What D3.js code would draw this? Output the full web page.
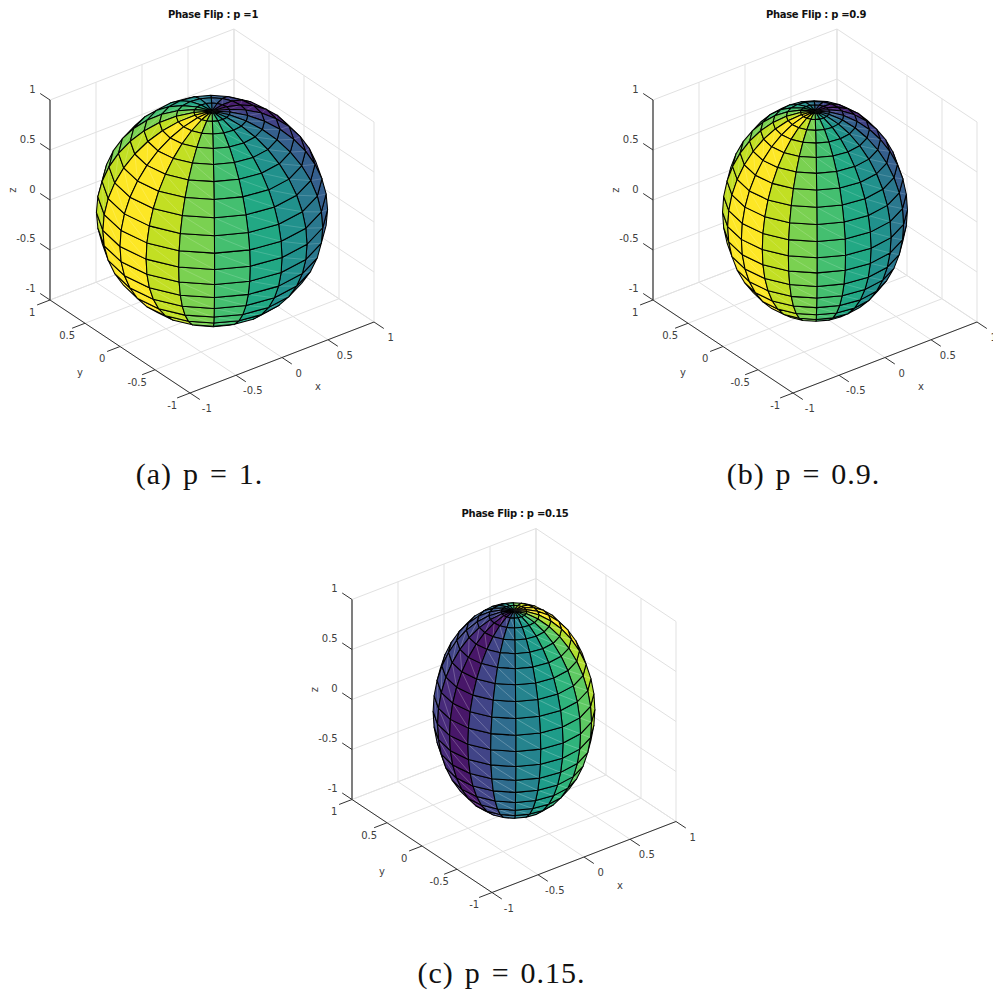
<!DOCTYPE html>
<html>
<head>
<meta charset="utf-8">
<script src="https://cdn.jsdelivr.net/npm/d3@7"></script>
<style>
  html, body { margin: 0; padding: 0; background: #fff; overflow: hidden; }
  svg { display: block; }
</style>
</head>
<body>
<div id="chart"></div>
<script>
// axis ticks shared by x, y, z
var tickValues = [-1, -0.5, 0, 0.5, 1];
var tickLabels = ["-1", "-0.5", "0", "0.5", "1"];

// surface mesh, degrees
var latitudes = [-90, -81, -72, -63, -54, -45, -36, -27, -18, -9, 0, 9, 18, 27, 36, 45, 54, 63, 72, 81, 90];
var longitudes = [-180, -162, -144, -126, -108, -90, -72, -54, -36, -18, 0, 18, 36, 54, 72, 90, 108, 126, 144, 162, 180];

// the three panels
var titles = ["Phase Flip : p =1", "Phase Flip : p =0.9", "Phase Flip : p =0.15"];
var captions = ["(a) p = 1.", "(b) p = 0.9.", "(c) p = 0.15."];
var xyRadius = [1, 0.8, 0.7];
var zRadius = [1, 1, 1];

// colour of each longitude strip, 0..1 on viridis
var stripsA = [1, 0.91, 0.8, 0.7, 0.6, 0.5, 0.4, 0.3, 0.2, 0.1, 0.08, 0.2, 0.3, 0.4, 0.5, 0.6, 0.7, 0.8, 0.91, 1];
var stripsB = [1, 0.91, 0.8, 0.7, 0.6, 0.5, 0.4, 0.3, 0.2, 0.1, 0.08, 0.2, 0.3, 0.4, 0.5, 0.6, 0.7, 0.8, 0.91, 1];
var stripsC = [0.06, 0.2, 0.35, 0.45, 0.55, 0.65, 0.75, 0.88, 1, 1, 1, 0.92, 0.8, 0.66, 0.5, 0.38, 0.28, 0.22, 0.2, 0.12];

var width = 993, height = 992;
var svg = d3.select("#chart").append("svg").attr("width", width).attr("height", height);
var viridis = d3.scaleSequential(d3.interpolateViridis).domain([0, 1]);

// oblique projection, az -37.5 el 30, screen shift per data unit
var xToH = d3.scaleLinear().domain([-1, 1]).range([-92, 92]);
var xToV = d3.scaleLinear().domain([-1, 1]).range([35.5, -35.5]);
var yToH = d3.scaleLinear().domain([-1, 1]).range([70, -70]);
var yToV = d3.scaleLinear().domain([-1, 1]).range([46.5, -46.5]);
var zToV = d3.scaleLinear().domain([-1, 1]).range([100, -100]);
var camera = [-0.527, -0.687, 0.5];
var rad = Math.PI / 180;

function drawPanel(i, strips, cx, cy, seam) {
  var g = svg.append("g").attr("transform", "translate(" + cx + "," + cy + ")");
  function px(p) { return [xToH(p[0]) + yToH(p[1]), xToV(p[0]) + yToV(p[1]) + zToV(p[2])]; }

  function seg(a, b, color, w) {
    var s = px(a), e = px(b);
    g.append("line").attr("x1", s[0]).attr("y1", s[1]).attr("x2", e[0]).attr("y2", e[1])
      .attr("stroke", color).attr("stroke-width", w);
  }

  // back walls and floor
  tickValues.forEach(function(t) {
    seg([t, 1, -1], [t, 1, 1], "#e1e1e1", 1);
    seg([1, t, -1], [1, t, 1], "#e1e1e1", 1);
    seg([-1, 1, t], [1, 1, t], "#e1e1e1", 1);
    seg([1, -1, t], [1, 1, t], "#e1e1e1", 1);
    seg([t, -1, -1], [t, 1, -1], "#e1e1e1", 1);
    seg([-1, t, -1], [1, t, -1], "#e1e1e1", 1);
  });

  // axes and ticks
  var axisColor = "#333", tl = 0.14;
  seg([-1, -1, -1], [1, -1, -1], axisColor, 1);
  seg([-1, -1, -1], [-1, 1, -1], axisColor, 1);
  seg([-1, 1, -1], [-1, 1, 1], axisColor, 1.2);
  tickValues.forEach(function(t, k) {
    seg([t, -1, -1], [t, -1 - tl, -1], axisColor, 1);
    seg([-1, t, -1], [-1 - tl, t, -1], axisColor, 1);
    seg([-1, 1, t], [-1, 1 + tl, t], axisColor, 1);
    var a = px([t, -1 - tl, -1]), b = px([-1 - tl, t, -1]), c = px([-1, 1 + tl, t]);
    tickText(g, a[0] + 7, a[1] + 9, tickLabels[k]);
    tickText(g, b[0] - 5, b[1] + 7.5, tickLabels[k]);
    tickText(g, c[0] - 4.5, c[1] - 4.5, tickLabels[k]).attr("text-anchor", "end");
  });
  tickText(g, 318 - 212, 386 - 211, "x");
  tickText(g, 80 - 212, 372 - 211, "y");
  g.append("text").attr("transform", "translate(" + (12 - 212) + "," + (190 - 211) + ") rotate(-90)")
    .attr("text-anchor", "middle").attr("dy", "0.35em")
    .attr("font-family", "DejaVu Sans").attr("font-size", 10).attr("fill", "#404040").text("z");

  // surface: keep camera-facing quads, far ones first
  var a = xyRadius[i], b = zRadius[i];
  function point(latIdx, lonIdx) {
    var la = latitudes[latIdx] * rad, lo = longitudes[lonIdx] * rad;
    return [a * Math.cos(la) * Math.cos(lo), a * Math.cos(la) * Math.sin(lo), b * Math.sin(la)];
  }
  var quads = [];
  d3.range(latitudes.length - 1).forEach(function(r) {
    d3.range(longitudes.length - 1).forEach(function(s) {
      var corners = [point(r, s), point(r, s + 1), point(r + 1, s + 1), point(r + 1, s)];
      var mid = [0, 1, 2].map(function(d) { return d3.mean(corners, function(c) { return c[d]; }); });
      var facing = mid[0] / (a * a) * camera[0] + mid[1] / (a * a) * camera[1] + mid[2] / (b * b) * camera[2];
      if (facing <= 0) return;
      quads.push({
        corners: corners,
        strip: s,
        depth: mid[0] * camera[0] + mid[1] * camera[1] + mid[2] * camera[2]
      });
    });
  });
  quads.sort(function(p, q) { return d3.ascending(p.depth, q.depth); });

  var outline = d3.line().curve(d3.curveLinearClosed);
  quads.forEach(function(q) {
    var pts = q.corners.map(px);
    g.append("path").attr("d", outline(pts)).attr("fill", viridis(strips[q.strip]))
      .attr("stroke", "none");
    // pale triangle seam of the exported surface
    g.append("line").attr("x1", pts[3][0]).attr("y1", pts[3][1]).attr("x2", pts[1][0]).attr("y2", pts[1][1])
      .attr("stroke", "#fff").attr("stroke-opacity", seam).attr("stroke-width", 0.6);
    g.append("path").attr("d", outline(pts)).attr("fill", "none")
      .attr("stroke", "#000").attr("stroke-width", 1.05).attr("stroke-linejoin", "round");
  });

  // title
  g.append("text").attr("x", 1).attr("y", -197).attr("dy", "0.35em").attr("text-anchor", "middle")
    .attr("font-family", "DejaVu Sans").attr("font-weight", "bold").attr("font-size", 10)
    .attr("letter-spacing", -0.3).attr("fill", "#111").text(titles[i]);
}

function tickText(g, x, y, s) {
  return g.append("text").attr("x", x).attr("y", y).attr("dy", "0.35em").attr("text-anchor", "middle")
    .attr("font-family", "DejaVu Sans").attr("font-size", 10).attr("fill", "#404040").text(s);
}

function drawCaption(s, x, y) {
  svg.append("text").attr("x", x).attr("y", y).attr("text-anchor", "middle")
    .attr("font-family", "Liberation Serif").attr("font-size", 30).attr("letter-spacing", 1)
    .attr("word-spacing", 2.4).attr("fill", "#111").text(s);
}

drawPanel(0, stripsA, 212, 211, 0.28);
drawPanel(1, stripsB, 815, 211, 0.28);
drawPanel(2, stripsC, 514, 710.5, 0.4);

drawCaption(captions[0], 199.5, 484);
drawCaption(captions[1], 803.5, 484);
drawCaption(captions[2], 501.5, 983);
</script>
</body>
</html>
